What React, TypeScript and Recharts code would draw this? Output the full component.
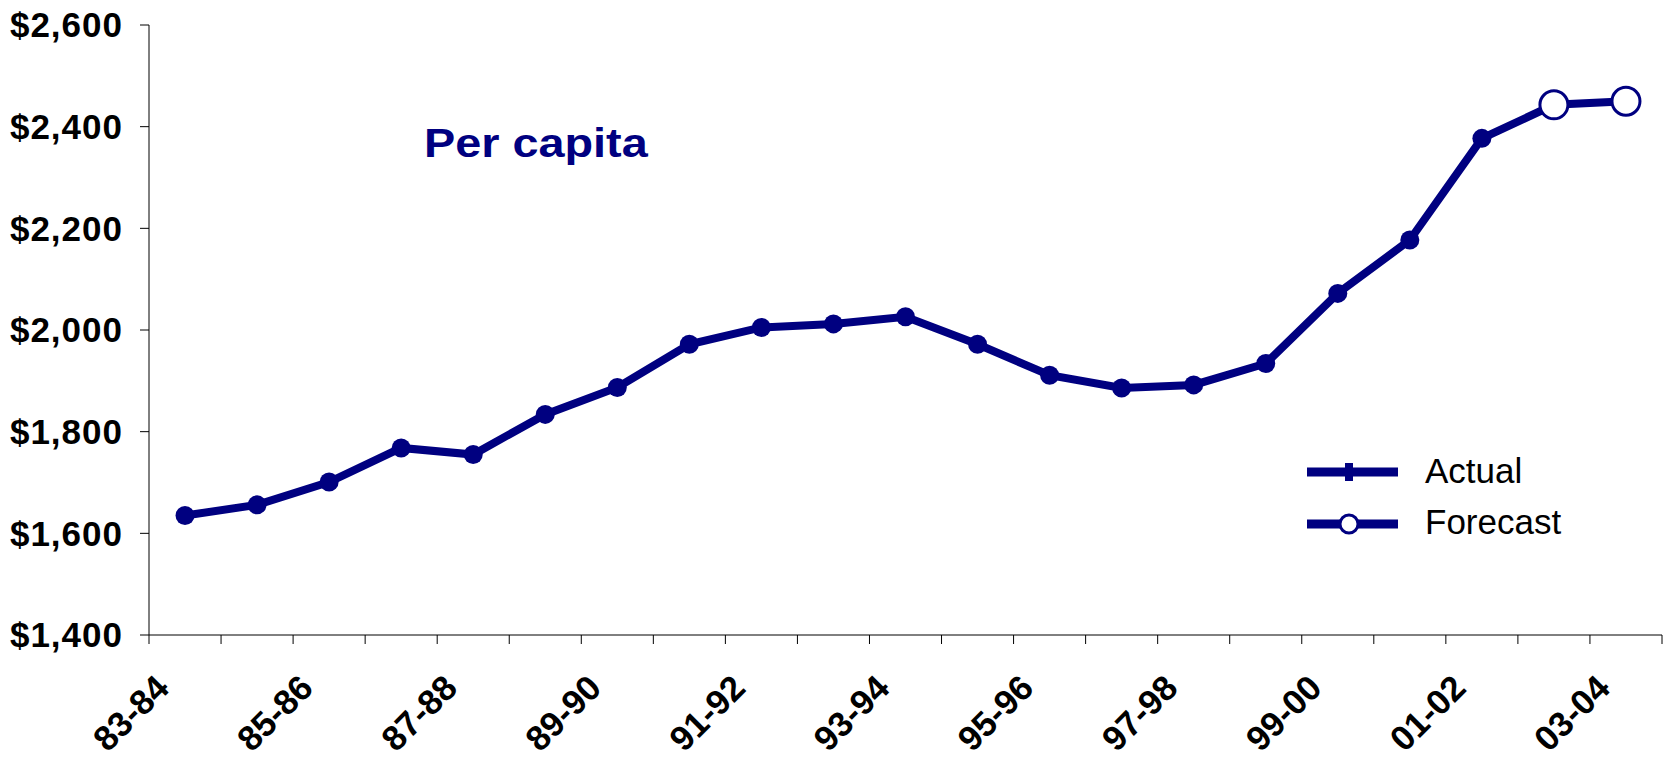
import { LineChart, Line, XAxis, YAxis, Legend } from 'recharts';

const FONT = '"Liberation Sans", Arial, Helvetica, sans-serif';
const NAVY = '#000080';

const categories = [
  '83-84', '84-85', '85-86', '86-87', '87-88', '88-89', '89-90', '90-91', '91-92', '92-93', '93-94',
  '94-95', '95-96', '96-97', '97-98', '98-99', '99-00', '00-01', '01-02', '02-03', '03-04',
];

// actual per capita spending, null where not yet known
const actualValues = [
  1635, 1656, 1701, 1768, 1755, 1834, 1887, 1972, 2005, 2012, 2026,
  1972, 1911, 1886, 1892, 1934, 2072, 2177, 2377, null, null,
];

// forecast continues from the last actual year
const forecastValues = [
  null, null, null, null, null, null, null, null, null, null, null,
  null, null, null, null, null, null, null, 2377, 2443, 2450,
];

const yTicks = [1400, 1600, 1800, 2000, 2200, 2400, 2600];

const data = categories.map((c, i) => ({
  idx: i,
  label: c,
  actual: actualValues[i],
  forecast: forecastValues[i],
}));

// tick marks sit between categories, labels on every other category
const xTicks: number[] = [];
for (let i = 0; i < categories.length; i++) {
  xTicks.push(i - 0.5);
  xTicks.push(i);
}
xTicks.push(categories.length - 0.5);

const lastActual = actualValues.findIndex((v, i) => v !== null && actualValues[i + 1] === null);

function CategoryTick(props: any) {
  const { x, y, payload } = props;
  const v = payload.value as number;
  if (v % 1 !== 0) {
    return <line x1={x} y1={y - 9} x2={x} y2={y} stroke="#000" strokeWidth={1} />;
  }
  if (v % 2 !== 0) return <g />;
  const tx = x - 14;
  const ty = y + 46;
  return (
    <text
      x={tx}
      y={ty}
      textAnchor="end"
      transform={`rotate(-45, ${tx}, ${ty})`}
      fill="#000"
      fontSize={35}
      fontWeight="bold"
      fontFamily={FONT}
    >
      {categories[v]}
    </text>
  );
}

function ForecastDot(props: any) {
  const { cx, cy, index, value } = props;
  if (cy == null || value == null || index === lastActual) return <g key={`fd-${index}`} />;
  return <circle key={`fd-${index}`} cx={cx} cy={cy} r={14} fill="#fff" stroke={NAVY} strokeWidth={3} />;
}

function LegendBox() {
  return (
    <svg width={320} height={110} style={{ fontFamily: FONT }}>
      <line x1={17} y1={32} x2={108} y2={32} stroke={NAVY} strokeWidth={9} />
      <rect x={55} y={23} width={8} height={18} fill={NAVY} />
      <text x={135} y={43} fontSize={35} fill="#000">Actual</text>
      <line x1={17} y1={84} x2={108} y2={84} stroke={NAVY} strokeWidth={9} />
      <circle cx={59} cy={84} r={9} fill="#fff" stroke={NAVY} strokeWidth={3} />
      <text x={135} y={94} fontSize={35} fill="#000">Forecast</text>
    </svg>
  );
}

export default function App() {
  return (
    <div style={{ position: 'absolute', left: 0, top: 0, width: 1668, height: 769, background: '#fff' }}>
      <LineChart
        width={1668}
        height={769}
        data={data}
        margin={{ top: 25, right: 6, bottom: 0, left: 0 }}
        style={{ fontFamily: FONT }}
      >
        <XAxis
          dataKey="idx"
          type="number"
          domain={[-0.5, categories.length - 0.5]}
          ticks={xTicks}
          interval={0}
          height={134}
          tickSize={9}
          tickMargin={0}
          tickLine={false}
          axisLine={{ stroke: '#000', strokeWidth: 1 }}
          tick={<CategoryTick />}
        />
        <YAxis
          domain={[1400, 2600]}
          ticks={yTicks}
          interval={0}
          width={149}
          tickSize={9}
          tickMargin={17}
          axisLine={{ stroke: '#000', strokeWidth: 1 }}
          tickLine={{ stroke: '#000', strokeWidth: 1 }}
          tick={{ fill: '#000', fontSize: 35, fontWeight: 'bold', fontFamily: FONT, letterSpacing: 1 }}
          tickFormatter={(v: number) => `$${v.toLocaleString('en-US')}`}
        />
        <Legend
          layout="vertical"
          align="center"
          verticalAlign="middle"
          content={() => <LegendBox />}
          wrapperStyle={{ left: 1290, top: 440, width: 320, height: 110 }}
        />
        <Line
          dataKey="forecast"
          name="Forecast"
          stroke={NAVY}
          strokeWidth={8}
          dot={<ForecastDot />}
          activeDot={false}
          isAnimationActive={false}
        />
        <Line
          dataKey="actual"
          name="Actual"
          stroke={NAVY}
          strokeWidth={8}
          dot={{ r: 9.5, fill: NAVY, stroke: NAVY, strokeWidth: 0 }}
          activeDot={false}
          isAnimationActive={false}
        />
      </LineChart>
      <div
        style={{
          position: 'absolute',
          left: 424,
          top: 123,
          fontFamily: FONT,
          fontSize: 40,
          lineHeight: '40px',
          fontWeight: 'bold',
          color: NAVY,
          whiteSpace: 'nowrap',
          transform: 'scaleX(1.17)',
          transformOrigin: 'left top',
        }}
      >
        Per capita
      </div>
    </div>
  );
}
